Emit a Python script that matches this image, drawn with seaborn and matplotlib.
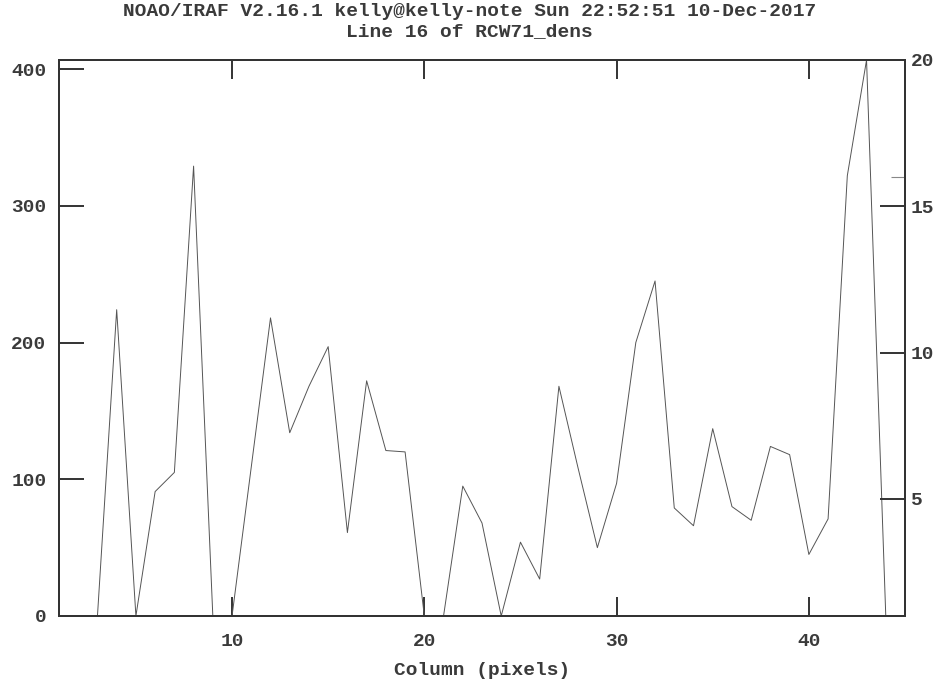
import matplotlib
matplotlib.use("Agg")
import matplotlib.pyplot as plt
import seaborn as sns
import pandas as pd

columns = list(range(1, 46))
values = [0, 0, 0, 224, 0, 91, 105, 329, 0, 0,
          109, 218, 134, 168, 197, 61, 172, 121, 120, 0,
          0, 95, 68, 0, 54, 27, 168, 108, 50, 97,
          200, 245, 79, 66, 137, 80, 70, 124, 118, 45,
          71, 322, 406.6, 0, 0]
left_ticks = [0, 100, 200, 300, 400]
bottom_ticks = [10, 20, 30, 40]
right_ticks = [5, 10, 15, 20]
line_number = 16
title_lines = ["NOAO/IRAF V2.16.1 kelly@kelly-note Sun 22:52:51 10-Dec-2017",
               "Line 16 of RCW71_dens"]
xlabel = "Column (pixels)"

df = pd.DataFrame({"column": columns, "value": values})

sns.set_style("white")
plt.rcParams["font.family"] = ["Liberation Mono", "DejaVu Sans Mono"]
FS = 14
TXT = "#3a3a3a"

fig = plt.figure(figsize=(9.39, 6.84), dpi=100)
ax = fig.add_axes([59/939, 1 - 616/684, (905-59)/939, (616-60)/684])

sns.lineplot(data=df, x="column", y="value", ax=ax, color="#555555", linewidth=0.7)

ax.set_xlim(1, 45)
ax.set_ylim(0, 406.6)
ax.set_xticks(bottom_ticks)
ax.set_yticks(left_ticks)
ax.set_xlabel(xlabel, fontsize=FS, fontweight="bold", color=TXT, labelpad=9)
ax.set_ylabel("")
for s in ax.spines.values():
    s.set_color("#333333")
    s.set_linewidth(1.4)
ax.tick_params(axis="x", direction="in", length=14, width=1.4, color="#333333",
               bottom=True, top=True, labeltop=False, labelsize=FS, pad=12,
               labelcolor=TXT)
ax.tick_params(axis="y", direction="in", length=18, width=1.4, color="#333333",
               left=True, right=False, labelsize=FS, pad=9, labelcolor=TXT)
for lab in ax.get_xticklabels() + ax.get_yticklabels():
    lab.set_fontweight("bold")

ax2 = ax.twinx()
ax2.set_ylim(1, 20)
ax2.set_yticks(right_ticks)
ax2.set_yticks([line_number], minor=True)
ax2.tick_params(axis="y", which="major", direction="in", length=18, width=1.4,
                color="#333333", right=True, labelsize=FS, pad=4, labelcolor=TXT)
ax2.tick_params(axis="y", which="minor", direction="in", length=10, width=0.8,
                color="#888888", right=True)
for lab in ax2.get_yticklabels():
    lab.set_fontweight("bold")
for s in ax2.spines.values():
    s.set_color("#333333")
    s.set_linewidth(1.4)

fig.text(0.5, 1 - 12/684, title_lines[0], ha="center", va="center",
         fontsize=14, fontweight="bold", color=TXT)
fig.text(0.5, 1 - 32/684, title_lines[1], ha="center", va="center",
         fontsize=14, fontweight="bold", color=TXT)

fig.savefig("out.png", dpi=100, facecolor="white")
